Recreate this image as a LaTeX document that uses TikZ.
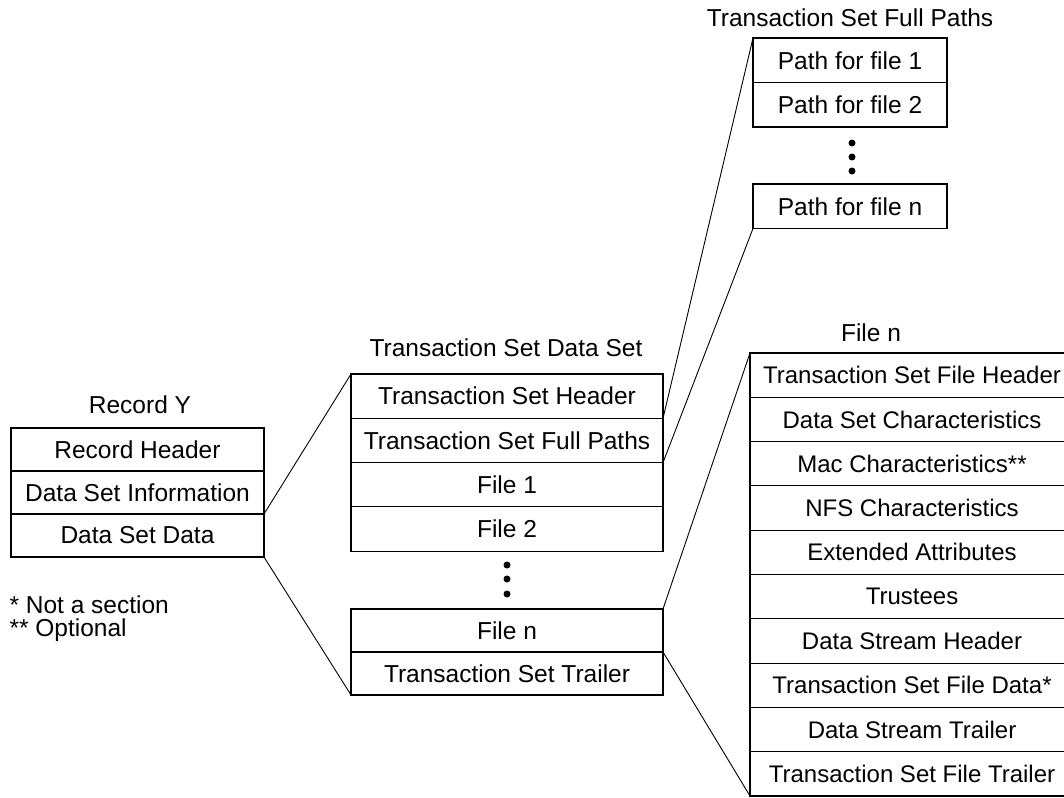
\documentclass[tikz,border=0pt]{standalone}
\usepackage{fontspec}
\setmainfont{Liberation Sans}
\begin{document}
\begin{tikzpicture}[x=1pt,y=-1pt,line width=1.1pt,
  every node/.style={font=\fontsize{24.5}{28}\selectfont},
  cell/.style={draw,inner sep=0pt,outer sep=0pt,anchor=north west},
  recrow/.style={cell,minimum width=253pt,minimum height=43pt},
  tsrow/.style={cell,minimum width=312pt,minimum height=44.3pt},
  pathrow/.style={cell,minimum width=194pt,minimum height=44.5pt},
  filerow/.style={cell,minimum width=324pt,minimum height=44.3pt,
    font=\fontsize{24}{28}\selectfont},
  title/.style={inner sep=0pt},
  dot/.style={circle,fill=black,inner sep=0pt,minimum size=7pt},
  link/.style={line width=0.9pt}]
\useasboundingbox (0,0) rectangle (1064,797);
\clip (0,0) rectangle (1064,797);

% Record Y
\node[title] (recY) at (140,405) {Record Y};
\node[recrow] (rh) at (11,428) {Record Header};
\node[recrow,anchor=north] (dsi) at (rh.south) {Data Set Information};
\node[recrow,anchor=north] (dsd) at (dsi.south) {Data Set Data};

% notes on the markers used below
\node[title,anchor=base west] (fn1) at (9,613) {* Not a section};
\node[title,anchor=base west] (fn2) at (9,636) {** Optional};

% Transaction Set Data Set
\node[title] (tsdsT) at (506,348) {Transaction Set Data Set};
\node[tsrow] (tsh) at (351,374) {Transaction Set Header};
\node[tsrow,anchor=north] (tsfp) at (tsh.south) {Transaction Set Full Paths};
\node[tsrow,anchor=north] (f1) at (tsfp.south) {File 1};
\node[tsrow,anchor=north] (f2) at (f1.south) {File 2};
\node[dot] (d1) at (507,565) {};
\node[dot] (d2) at (507,579) {};
\node[dot] (d3) at (507,594) {};
\node[tsrow,minimum height=43pt] (fn) at (351,609) {File n};
\node[tsrow,minimum height=43pt,anchor=north] (tst) at (fn.south) {Transaction Set Trailer};

% Transaction Set Full Paths
\node[title] (tsfpT) at (850,18) {Transaction Set Full Paths};
\node[pathrow] (p1) at (753,38) {Path for file 1};
\node[pathrow,anchor=north] (p2) at (p1.south) {Path for file 2};
\node[dot] (e1) at (852,143) {};
\node[dot] (e2) at (852,157) {};
\node[dot] (e3) at (852,171) {};
\node[pathrow] (pn) at (753,184) {Path for file n};

% File n
\node[title] (fileT) at (871,333) {File n};
\node[filerow] (r1) at (750,353) {Transaction Set File Header};
\node[filerow,anchor=north] (r2) at (r1.south) {Data Set Characteristics};
\node[filerow,anchor=north] (r3) at (r2.south) {Mac Characteristics**};
\node[filerow,anchor=north] (r4) at (r3.south) {NFS Characteristics};
\node[filerow,anchor=north] (r5) at (r4.south) {Extended Attributes};
\node[filerow,anchor=north] (r6) at (r5.south) {Trustees};
\node[filerow,anchor=north] (r7) at (r6.south) {Data Stream Header};
\node[filerow,anchor=north] (r8) at (r7.south) {Transaction Set File Data*};
\node[filerow,anchor=north] (r9) at (r8.south) {Data Stream Trailer};
\node[filerow,anchor=north] (r10) at (r9.south) {Transaction Set File Trailer};

% Expansion lines
\draw[link] (dsi.south east) -- (tsh.north west);
\draw[link] (dsd.south east) -- (tst.south west);
\draw[link] (tsh.south east) -- (p1.north west);
\draw[link] (tsfp.south east) -- (pn.south west);
\draw[link] (fn.north east) -- (r1.north west);
\draw[link] (fn.south east) -- (r10.south west);
\end{tikzpicture}
\end{document}
